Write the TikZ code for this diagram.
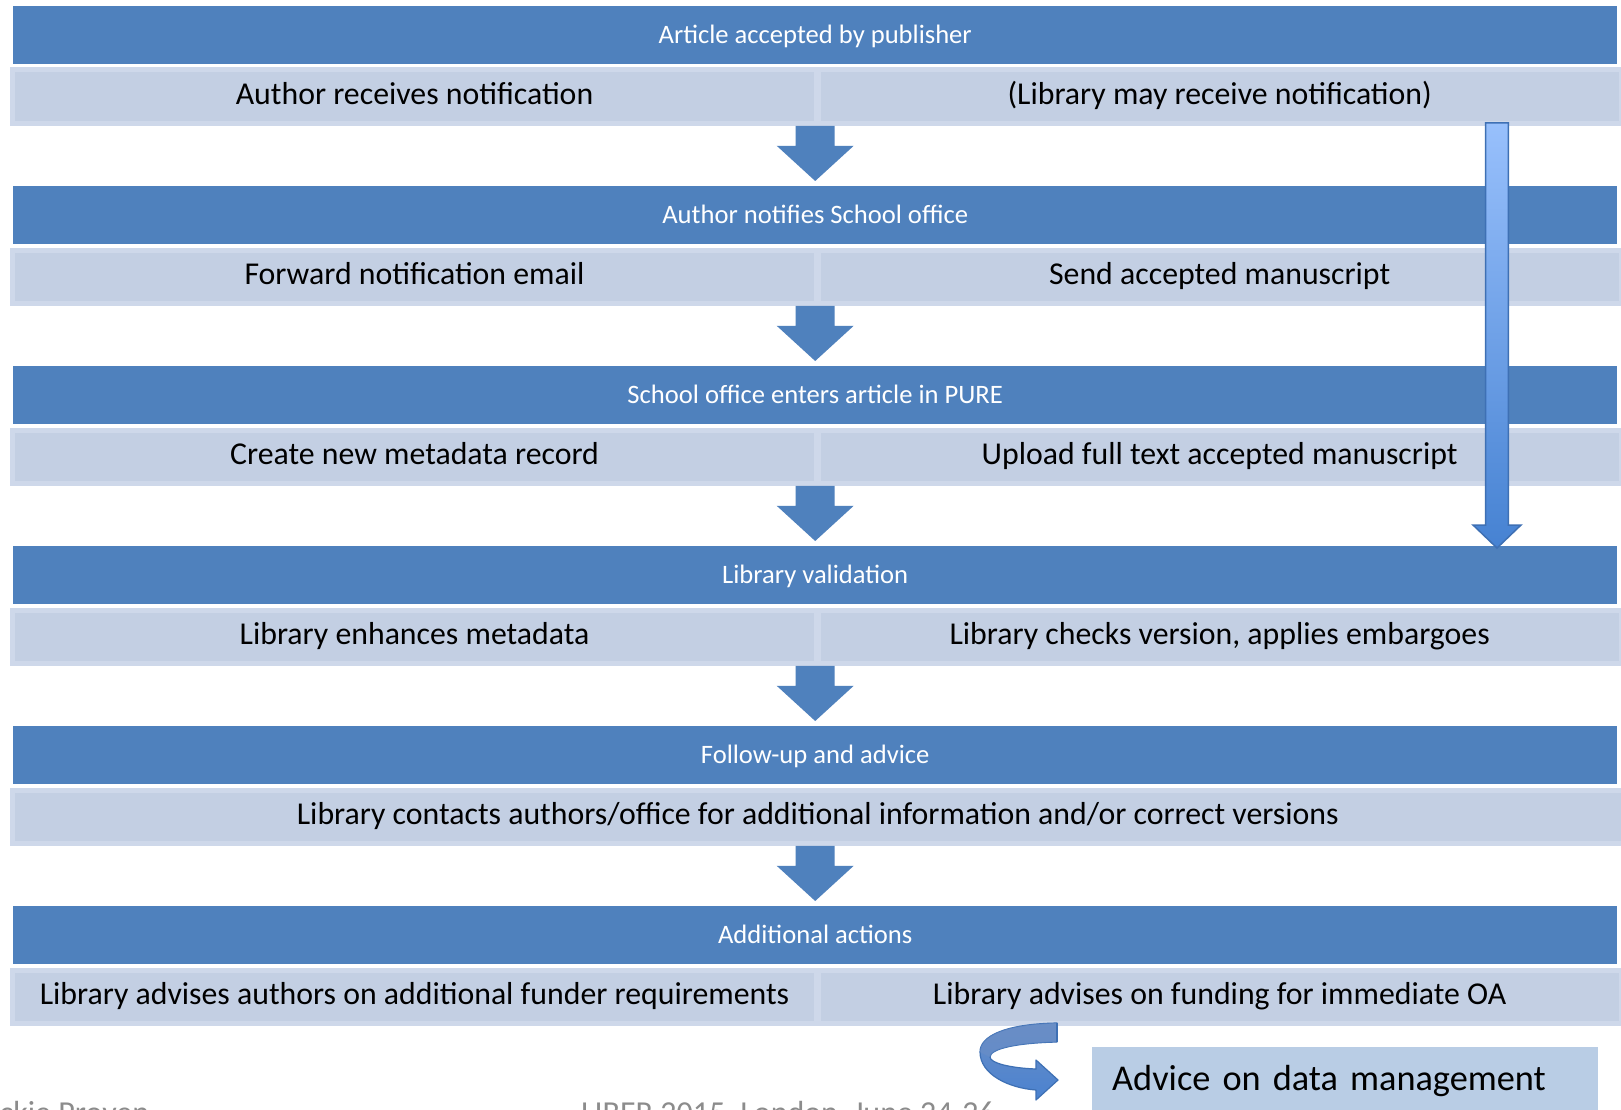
\documentclass[tikz,border=0pt]{standalone}
\usepackage{fontspec}
\setmainfont{Carlito}
\usetikzlibrary{calc}
\definecolor{hdr}{HTML}{4F81BD}
\definecolor{cellfill}{HTML}{C3CFE3}
\definecolor{celledge}{HTML}{CED8EA}
\definecolor{advfill}{HTML}{B9CDE5}
\definecolor{foot}{HTML}{8C8C8C}
\definecolor{arlight}{HTML}{98C0FC}
\definecolor{ardark}{HTML}{4682D2}
\definecolor{aredge}{HTML}{3E70B4}
\definecolor{cvtop}{HTML}{6A8EC6}
\definecolor{cvbot}{HTML}{4A82D0}
\tikzset{
  hdrbox/.style={fill=hdr, draw=none, minimum width=1604pt, minimum height=58pt, inner sep=0pt,
    text=white, font=\fontsize{26.6}{30}\selectfont, text height=20.5pt, text depth=3.5pt, anchor=north west},
  cellbox/.style={fill=cellfill, draw=celledge, line width=5pt, minimum height=53.3pt, inner sep=0pt,
    font=\fontsize{31.8}{36}\selectfont, text height=23pt, text depth=7.5pt, anchor=north west},
  leftcell/.style={cellbox, minimum width=804.4pt},
  rightcell/.style={cellbox, minimum width=802.7pt},
  fullcell/.style={cellbox, minimum width=1611pt},
  foottext/.style={text=foot, font=\fontsize{32}{36}\selectfont, inner sep=0pt, anchor=base west},
}
\newcommand\blockdown[2]{%
  \fill[hdr] let \p1=(#1), \p2=(#2) in
    (\x1-19.5pt,\y1) -- (\x1+19.5pt,\y1) -- (\x1+19.5pt,\y1-20pt) -- (\x1+38.5pt,\y1-20pt)
    -- (\x2,\y2) -- (\x1-38.5pt,\y1-20pt) -- (\x1-19.5pt,\y1-20pt) -- cycle;}
\begin{document}
\begin{tikzpicture}[x=1pt,y=-1pt]
\useasboundingbox (0,0) rectangle (1621,1110);
\clip (0,0) rectangle (1621,1110);
\fill[white] (0,0) rectangle (1621,1110);

% row 0
\node[hdrbox] (h0) at (13,6) {Article accepted by publisher};
\node[leftcell] (c0L) at (9.8,67.5) {Author receives notification};
\node[rightcell] (c0R) at (815.8,67.5) {(Library may receive notification)};
% row 1
\node[hdrbox] (h1) at (13,186) {Author notifies School office};
\node[leftcell] (c1L) at (9.8,247.5) {Forward notification email};
\node[rightcell] (c1R) at (815.8,247.5) {Send accepted manuscript};
% row 2
\node[hdrbox] (h2) at (13,366) {School office enters article in PURE};
\node[leftcell] (c2L) at (9.8,427.5) {Create new metadata record};
\node[rightcell] (c2R) at (815.8,427.5) {Upload full text accepted manuscript};
% row 3
\node[hdrbox] (h3) at (13,546) {Library validation};
\node[leftcell] (c3L) at (9.8,607.5) {Library enhances metadata};
\node[rightcell] (c3R) at (815.8,607.5) {Library checks version, applies embargoes};
% row 4
\node[hdrbox] (h4) at (13,726) {Follow-up and advice};
\node[fullcell] (c4) at (9.8,787.5) {Library contacts authors/office for additional information and/or correct versions};
% row 5
\node[hdrbox] (h5) at (13,906) {Additional actions};
\node[leftcell] (c5L) at (9.8,967.5) {Library advises authors on additional funder requirements};
\node[rightcell] (c5R) at (815.8,967.5) {Library advises on funding for immediate OA};

% down block arrows
\coordinate (s0) at (h1.north |- c0L.south); \coordinate (t0) at ($(h1.north)+(0,-5)$);
\coordinate (s1) at (h2.north |- c1L.south); \coordinate (t1) at ($(h2.north)+(0,-5)$);
\coordinate (s2) at (h3.north |- c2L.south); \coordinate (t2) at ($(h3.north)+(0,-5)$);
\coordinate (s3) at (h4.north |- c3L.south); \coordinate (t3) at ($(h4.north)+(0,-5)$);
\coordinate (s4) at (h5.north |- c4.south);  \coordinate (t4) at ($(h5.north)+(0,-5)$);
\blockdown{s0}{t0}
\blockdown{s1}{t1}
\blockdown{s2}{t2}
\blockdown{s3}{t3}
\blockdown{s4}{t4}

% long arrow from library notification to validation
\coordinate (la0) at (1497,123);
\coordinate (la1) at (1497,548);
\shadedraw[top color=arlight, bottom color=ardark, draw=aredge, line width=1.5pt, line join=miter]
  let \p1=(la0), \p2=(la1) in
  (\x1-11.3pt,\y1) -- (\x1+11.3pt,\y1) -- (\x1+11.3pt,\y2+23pt) -- (\x1+24pt,\y2+23pt)
  -- (\x2,\y2) -- (\x1-24pt,\y2+23pt) -- (\x1-11.3pt,\y2+23pt) -- cycle;

% advice box
\node[fill=advfill, anchor=north west, minimum height=64pt, text width=466pt, inner xsep=20pt, inner ysep=0pt,
  align=left, font=\fontsize{36.3}{42}\selectfont, text height=29pt, text depth=6pt] (adv) at (1092,1047) {Advice on data management};

% curved U-turn arrow
\shadedraw[top color=cvtop, bottom color=cvbot, draw=aredge, line width=1.2pt, line join=round]
  (1057,1023) .. controls (1005,1024) and (980,1036) .. (980,1052)
  .. controls (980,1074) and (1008,1088) .. (1036,1090) -- (1036,1100) -- (1058,1080)
  -- (1036,1060) -- (1036,1069) .. controls (1010,1068) and (990,1063) .. (990,1057)
  .. controls (990,1049) and (1015,1043) .. (1057,1042) -- cycle;
\fill[cvtop, opacity=0.6]
  (1057,1023) .. controls (1005,1024) and (980,1036) .. (980,1052)
  -- (990,1057) .. controls (990,1049) and (1015,1043) .. (1057,1042) -- cycle;
\draw[aredge, line width=1.2pt] (1057,1023) -- (1057,1042);

% footer (cut by page edge, as in the reference)
\node[foottext] (f1) at (-26,1123) {Jackie Proven};
\node[foottext] (f2) at (581,1123) {LIBER 2015, London, June 24-26};
\end{tikzpicture}
\end{document}
